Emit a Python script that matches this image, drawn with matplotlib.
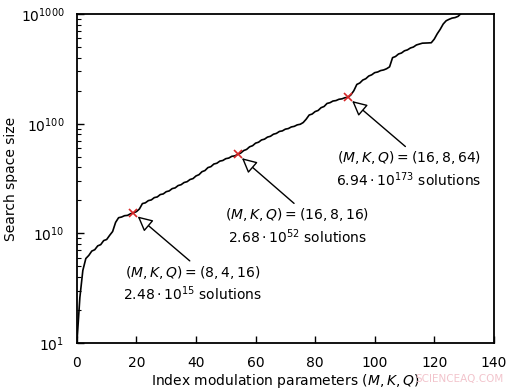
import numpy as np
import matplotlib
matplotlib.use("Agg")
import matplotlib.pyplot as plt
from matplotlib.ticker import FixedLocator, FuncFormatter, LogLocator, NullFormatter

# exponent of the search space size (log10 of the number of solutions) for each index
index = np.arange(131)
log10_size = [
    1.0, 2.6, 4.6, 5.9, 6.3, 6.9, 7.1, 7.7, 7.9, 8.6,
    8.8, 9.6, 10.4, 12.6, 13.9, 14.1, 14.5, 14.6, 15.1, 15.39,
    15.8, 16.7, 18.7, 19.0, 19.9, 20.2, 21.2, 21.5, 22.6, 22.9,
    24.0, 24.4, 25.6, 26.0, 27.3, 27.8, 29.1, 29.6, 31.0, 31.6,
    33.4, 34.3, 36.5, 37.4, 39.8, 40.6, 42.9, 43.6, 45.6, 46.2,
    48.0, 48.6, 50.4, 50.9, 52.43, 54.0, 56.9, 58.3, 61.6, 63.0,
    66.5, 67.8, 71.1, 72.3, 75.5, 76.8, 80.2, 81.6, 85.0, 86.0,
    89.2, 90.3, 93.4, 94.6, 97.6, 98.8, 102.5, 110, 120, 122.5,
    129, 132, 140, 143.5, 153, 155.5, 161, 162.5, 167, 168.5,
    172.5, 173.84, 183, 200, 228, 235, 250, 257, 272, 279,
    292, 296, 305, 309, 317, 330, 400, 410, 432, 441,
    462, 471, 490, 500, 522, 532, 542, 543, 545, 547,
    590, 660, 725, 810, 868, 895, 918, 928, 952, 1010,
    1080,
]

# highlighted configurations
mark_x = [19, 54, 91]
mark_y = [15.39, 52.43, 173.84]
mark_params = ["(8, 4, 16)", "(16, 8, 16)", "(16, 8, 64)"]
mark_count = [r"2.48\cdot 10^{15}", r"2.68\cdot 10^{52}", r"6.94\cdot 10^{173}"]
text_pos = [(39, 3.5), (74, 11.7), (111.4, 38.6)]

fig = plt.figure(figsize=(5.16, 3.89), dpi=100)
ax = fig.add_axes([0.149, 0.118, 0.808, 0.846])

ax.plot(index, log10_size, color="black", lw=1.2)
ax.plot(mark_x, mark_y, "x", color="#d62728", ms=6, mew=1.2)

for x, y, p, c, pos in zip(mark_x, mark_y, mark_params, mark_count, text_pos):
    ax.annotate("$(M,K,Q) = %s$\n$%s$ solutions" % (p, c), xy=(x, y), xytext=pos,
                ha="center", va="center", fontsize=10, linespacing=1.25,
                arrowprops=dict(arrowstyle="-|>,head_length=0.9,head_width=0.45",
                                fc="white", ec="black", lw=1, relpos=(0.5, 1.0),
                                shrinkA=0, shrinkB=4))

ax.set_xlim(0, 140)
ax.set_yscale("log")
ax.set_ylim(1, 1000)
ax.yaxis.set_major_locator(FixedLocator([1, 10, 100, 1000]))
ax.yaxis.set_major_formatter(FuncFormatter(lambda v, pos: "$10^{%d}$" % round(v)))
ax.yaxis.set_minor_locator(LogLocator(base=10, subs=np.arange(2, 10)))
ax.yaxis.set_minor_formatter(NullFormatter())
ax.set_xticks(np.arange(0, 141, 20))

ax.tick_params(which="both", direction="in", top=False, right=False, labelsize=10, pad=9)
ax.tick_params(which="major", length=5, width=1)
ax.tick_params(which="minor", length=3, width=0.8)
for s in ax.spines.values():
    s.set_linewidth(1.3)

ax.set_xlabel("Index modulation parameters $(M,K,Q)$", fontsize=10, labelpad=2)
ax.set_ylabel("Search space size", fontsize=10, labelpad=2)

fig.text(0.805, 0.018, "SCIENCEAQ.COM", color="#f2c4cc", fontsize=7.5)

fig.savefig("out.png", dpi=100)
